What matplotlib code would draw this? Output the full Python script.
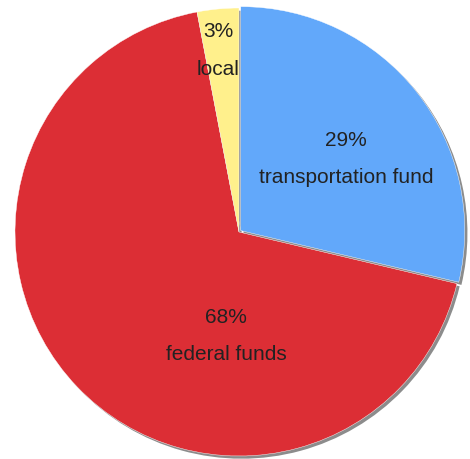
import matplotlib.pyplot as plt

plt.rcParams['font.family'] = ['Liberation Sans', 'DejaVu Sans']

# data
names = ['transportation fund', 'federal funds', 'local']
values = [28.7, 68.3, 3.0]
colors = ['#62a8fa', '#dc2e35', '#fff08c']
explode = [0.01, 0, 0]

# label placement (radius units, relative to pie center)
label_pos = [(0.478, 0.33), (-0.058, -0.46), (-0.094, 0.815)]

fig = plt.figure(figsize=(4.7, 4.6), dpi=100)
ax = fig.add_axes([15 / 470, 3 / 460, 448 / 470, 448 / 460])

# drop shadow
ax.pie(values, startangle=90, counterclock=False, explode=explode,
       colors=['#8c8c8c'] * 3, center=(0.012, -0.012),
       wedgeprops=dict(linewidth=0))
ax.pie(values, startangle=90, counterclock=False, explode=explode,
       colors=colors, wedgeprops=dict(edgecolor='white', linewidth=0.3))

total = sum(values)
for (name, v, (x, y)) in zip(names, values, label_pos):
    ax.text(x, y + 0.083, '%.0f%%' % (100 * v / total), ha='center',
            va='center', fontsize=15, color='#222222')
    ax.text(x, y - 0.083, name, ha='center', va='center',
            fontsize=15, color='#222222')

ax.set_xlim(-1, 1)
ax.set_ylim(-1, 1)
ax.set_aspect('equal')
ax.axis('off')
for p in ax.patches:
    p.set_clip_on(False)

plt.savefig('out.png')
